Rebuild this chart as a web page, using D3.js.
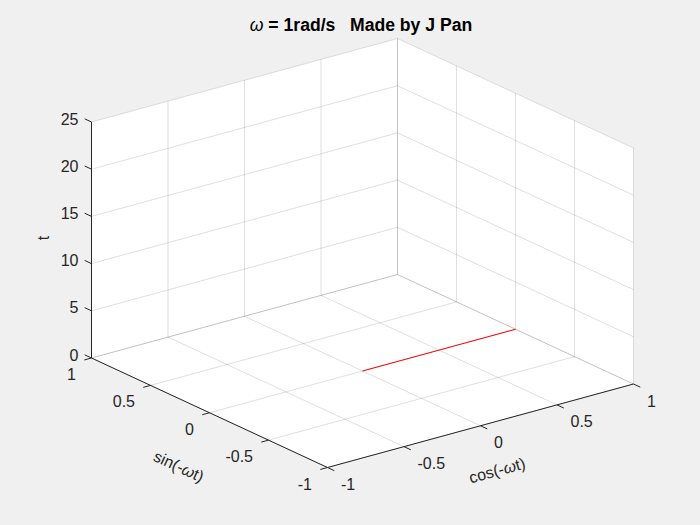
<!DOCTYPE html>
<html>
<head>
<meta charset="utf-8">
<script src="https://cdn.jsdelivr.net/npm/d3@7"></script>
<style>
  html, body { margin: 0; padding: 0; background: #f0f0f0; }
  svg { display: block; font-family: "Liberation Sans", Arial, Helvetica, sans-serif; }
</style>
</head>
<body>
<svg id="chart" width="700" height="525"></svg>
<script>
// ---- data ----
const xTicks = [-1, -0.5, 0, 0.5, 1];
const yTicks = [-1, -0.5, 0, 0.5, 1];
const zTicks = [0, 5, 10, 15, 20, 25];
const xTickLabels = ["-1", "-0.5", "0", "0.5", "1"];
const yTickLabels = ["-1", "-0.5", "0", "0.5", "1"];
const zTickLabels = ["0", "5", "10", "15", "20", "25"];
const lineX = [0, 1];   // cos(-wt) values of the red segment
const lineY = [0, 0];   // sin(-wt)
const lineZ = [0, 0];   // t
const titleText = ["ω", " = 1rad/s   Made by J Pan"];

// ---- scales (data -> unit cube) ----
const sx = d3.scaleLinear().domain([-1, 1]).range([0, 1]);
const sy = d3.scaleLinear().domain([-1, 1]).range([0, 1]);
const sz = d3.scaleLinear().domain([0, 25]).range([0, 1]);

// projection of the unit cube (view az=-37.5, el=30)
const O  = [327.5, 467.5];
const EX = [306, -83.5];
const EY = [-236, -109.5];
const EZ = [0, -236];
function P(x, y, z) {
  const u = sx(x), v = sy(y), w = sz(z);
  return [O[0] + EX[0]*u + EY[0]*v + EZ[0]*w,
          O[1] + EX[1]*u + EY[1]*v + EZ[1]*w];
}
const svg = d3.select("#chart");
const line = d3.line();

svg.append("rect").attr("width", 700).attr("height", 525).attr("fill", "#f0f0f0");

// back planes (white)
const planes = [
  [P(-1,-1,0), P(1,-1,0), P(1,1,0), P(-1,1,0)],
  [P(-1,1,0), P(1,1,0), P(1,1,25), P(-1,1,25)],
  [P(1,-1,0), P(1,1,0), P(1,1,25), P(1,-1,25)]
];
svg.append("g").selectAll("path").data(planes).join("path")
  .attr("d", d => line(d) + "Z").attr("fill", "#ffffff").attr("stroke", "#ffffff").attr("stroke-width", 0.5);

// grid
const grid = [];
xTicks.forEach(x => { grid.push([P(x,-1,0), P(x,1,0)]); grid.push([P(x,1,0), P(x,1,25)]); });
yTicks.forEach(y => { grid.push([P(-1,y,0), P(1,y,0)]); grid.push([P(1,y,0), P(1,y,25)]); });
zTicks.forEach(z => { grid.push([P(-1,1,z), P(1,1,z)]); grid.push([P(1,-1,z), P(1,1,z)]); });
svg.append("g").selectAll("path").data(grid).join("path")
  .attr("d", d => line(d)).attr("fill", "none")
  .attr("stroke", "rgba(38,38,38,0.15)").attr("stroke-width", 1);

// red data line
const pts = lineX.map((x, i) => P(x, lineY[i], lineZ[i]));
svg.append("path").attr("d", line(pts)).attr("fill", "none")
  .attr("stroke", "#ff0000").attr("stroke-width", 1);

// axes lines
const axisColor = "#262626";
const axes = [
  [P(-1,1,0), P(-1,1,25)],
  [P(-1,1,0), P(-1,-1,0)],
  [P(-1,-1,0), P(1,-1,0)]
];
svg.append("g").selectAll("path").data(axes).join("path")
  .attr("d", d => line(d)).attr("fill", "none").attr("stroke", axisColor).attr("stroke-width", 1);

function unit(v) { const l = Math.hypot(v[0], v[1]); return [v[0]/l, v[1]/l]; }
const dY = unit(EY), dX = unit(EX);
const TL = 7.5;
const ticks = [];
zTicks.forEach(z => { const p = P(-1,1,z); ticks.push([p, [p[0]+dY[0]*TL, p[1]+dY[1]*TL]]); });
yTicks.forEach(y => { const p = P(-1,y,0); ticks.push([p, [p[0]-dX[0]*TL, p[1]-dX[1]*TL]]); });
xTicks.forEach(x => { const p = P(x,-1,0); ticks.push([p, [p[0]-dY[0]*TL, p[1]-dY[1]*TL]]); });
svg.append("g").selectAll("path").data(ticks).join("path")
  .attr("d", d => line(d)).attr("fill", "none").attr("stroke", axisColor).attr("stroke-width", 1);

// tick labels
const fs = "16px";
const tl = svg.append("g").attr("fill", axisColor).style("font-size", fs);
zTicks.forEach((z, i) => {
  const p = P(-1,1,z);
  tl.append("text").attr("x", p[0]-13).attr("y", p[1]-3)
    .attr("text-anchor", "end").attr("dominant-baseline", "central").text(zTickLabels[i]);
});
yTicks.forEach((y, i) => {
  const p = P(-1,y,0);
  tl.append("text").attr("x", p[0]-15.5).attr("y", p[1]+16.5)
    .attr("text-anchor", "end").attr("dominant-baseline", "central").text(yTickLabels[i]);
});
xTicks.forEach((x, i) => {
  const p = P(x,-1,0);
  tl.append("text").attr("x", p[0]+13.5).attr("y", p[1]+17)
    .attr("text-anchor", "start").attr("dominant-baseline", "central").text(xTickLabels[i]);
});

// axis labels
const al = svg.append("g").attr("fill", axisColor).style("font-size", fs);
al.append("text").attr("transform", "translate(43,238) rotate(-90)")
  .attr("text-anchor", "middle").attr("dominant-baseline", "central").text("t");
const angY = Math.atan2(-EY[1], -EY[0]) * 180 / Math.PI; // along y axis direction
const sinT = al.append("text").attr("transform", `translate(179,466) rotate(${angY})`)
  .attr("text-anchor", "middle").attr("dominant-baseline", "central");
sinT.append("tspan").text("sin(-");
sinT.append("tspan").style("font-style", "italic").text("ω");
sinT.append("tspan").text("t)");
const angX = Math.atan2(EX[1], EX[0]) * 180 / Math.PI;
const cosT = al.append("text").attr("transform", `translate(497,470) rotate(${angX})`)
  .attr("text-anchor", "middle").attr("dominant-baseline", "central");
cosT.append("tspan").text("cos(-");
cosT.append("tspan").style("font-style", "italic").text("ω");
cosT.append("tspan").text("t)");

// title
const tt = svg.append("text").attr("x", 361).attr("y", 25)
  .attr("text-anchor", "middle").attr("dominant-baseline", "central")
  .attr("fill", "#000").style("font-size", "17.6px").style("white-space", "pre")
  .attr("xml:space", "preserve");
tt.append("tspan").style("font-style", "italic").style("font-weight", "normal").text(titleText[0]);
tt.append("tspan").style("font-weight", "bold").text(titleText[1]);
</script>
</body>
</html>
